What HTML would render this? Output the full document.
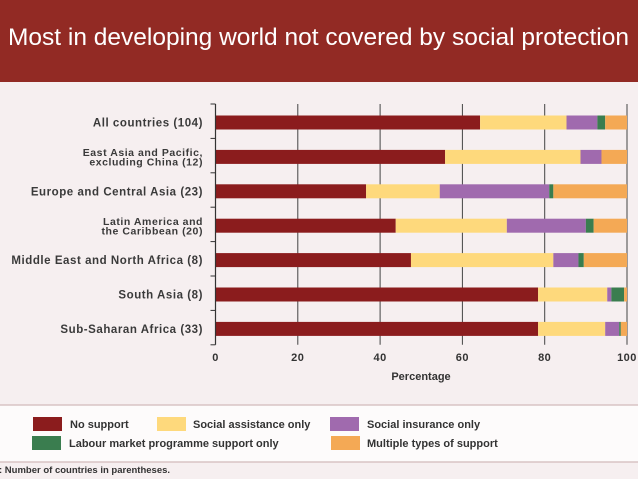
<!DOCTYPE html>
<html><head><meta charset="utf-8"><style>
body{margin:0;width:638px;height:479px;overflow:hidden;background:#f6eff0;font-family:"Liberation Sans",sans-serif;position:relative}
#title{position:absolute;left:0;top:0;width:638px;height:82px;background:#922a24;color:#fff;font-size:24.5px;line-height:76px;padding-left:8px;box-sizing:border-box;white-space:nowrap;overflow:hidden}
svg{position:absolute;left:0;top:0}
</style></head><body>
<div id="title">Most in developing world not covered by social protection</div>
<svg id="chart" width="638" height="479"></svg>
<script>
const categories=["All countries (104)","East Asia and Pacific,|excluding China (12)","Europe and Central Asia (23)","Latin America and|the Caribbean (20)","Middle East and North Africa (8)","South Asia (8)","Sub-Saharan Africa (33)"];
const seriesNames=["No support","Social assistance only","Social insurance only","Labour market programme support only","Multiple types of support"];
const seriesColors=["#8b1c1d","#fed97c","#a06aae","#3a7d4f","#f4a955"];
const noSupport=[64.3,55.8,36.6,43.8,47.5,78.4,78.4];
const socialAssistance=[21.0,32.9,17.9,27.0,34.6,16.8,16.3];
const socialInsurance=[7.5,5.1,26.6,19.2,6.1,1.0,3.4];
const labourMarket=[1.9,0,1.0,1.9,1.3,3.1,0.4];
const multiple=[5.3,6.2,17.9,8.1,10.5,0.7,1.5];
const xTicks=[0,20,40,60,80,100];
const NS="http://www.w3.org/2000/svg";
const svg=document.getElementById('chart');
const x0=215.5,x1=627,yTop=104,rowH=34.4,barH=14;
const xs=v=>x0+(x1-x0)*v/100;
const yc=i=>yTop+18.5+i*rowH;
function mk(t,a,p){const e=document.createElementNS(NS,t);for(const k in a)e.setAttribute(k,a[k]);(p||svg).appendChild(e);return e;}
const series=[noSupport,socialAssistance,socialInsurance,labourMarket,multiple];
xTicks.forEach(t=>{
 if(t>0){const g=mk('line',{x1:xs(t),x2:xs(t),y1:yTop,y2:yTop+7*rowH,stroke:'#444','stroke-width':1});
 
 }
 const tl=mk('text',{x:xs(t),y:yTop+7*rowH+16,'text-anchor':'middle','font-size':11,'font-weight':'bold',fill:'#333','letter-spacing':0.5});
 tl.textContent=t;
 
 
});
categories.forEach((c,i)=>{
 let acc=0;
 series.forEach((s,j)=>{
  const v=s[i];if(v<=0){return;}
  const r=mk('rect',{x:xs(acc),y:yc(i)-barH/2,width:xs(acc+v)-xs(acc),height:barH,fill:seriesColors[j]});
  
  
  acc+=v;
 });
 const lines=c.split('|');
 lines.forEach((ln,k)=>{
  const t=mk('text',{x:203,y:yc(i)+4+(k-(lines.length-1)/2)*9.5,'text-anchor':'end','font-size':lines.length>1?10.5:11.5,'font-weight':'bold',fill:'#3a3a3a','letter-spacing':0.55});
  t.textContent=ln;
  
  
 });
});
const ax=mk('line',{x1:x0,x2:x0,y1:yTop,y2:yTop+7*rowH,stroke:'#333','stroke-width':1.2});


for(let k=0;k<=7;k++){
 const tk=mk('line',{x1:x0-5,x2:x0,y1:yTop+k*rowH,y2:yTop+k*rowH,stroke:'#333','stroke-width':1});
 
 
}
const xt=mk('text',{x:421,y:380,'text-anchor':'middle','font-size':11,'font-weight':'bold',fill:'#333'});
xt.textContent='Percentage';


const lb=mk('rect',{x:0,y:405,width:638,height:57,fill:'#fdfbfb'});


[405,462].forEach(y=>{const l=mk('line',{x1:0,x2:638,y1:y,y2:y,stroke:'#d8c4c4','stroke-width':1.5});

});
const lpos=[[33,424,70],[157,424,193],[330,424,367],[32,443,69],[331,443,367]];
seriesNames.forEach((n,j)=>{
 const p=lpos[j];
 const g=mk('g',{});
 
 
 mk('rect',{x:p[0],y:p[1]-7,width:29,height:14,fill:seriesColors[j]},g);
 const t=mk('text',{x:p[2],y:p[1]+4,'font-size':11,'font-weight':'bold',fill:'#333'},g);
 t.textContent=n;
});
const fn=mk('text',{x:-1,y:473,'font-size':9.5,'font-weight':'bold',fill:'#333'});
fn.textContent=': Number of countries in parentheses.';


</script>
</body></html>
